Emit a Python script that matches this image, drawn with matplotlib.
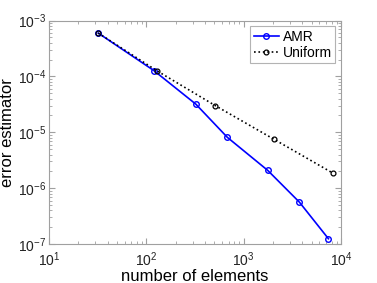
import matplotlib.pyplot as plt
import numpy as np

plt.rcParams['font.family'] = ['Liberation Sans', 'DejaVu Sans']

amr_n = [32, 120, 322, 681, 1766, 3740, 7430]
amr_err = [6.0e-4, 1.27e-4, 3.2e-5, 8.1e-6, 2.08e-6, 5.6e-7, 1.24e-7]
uni_n = [32, 128, 512, 2048, 8192]
uni_err = [6.0e-4, 1.27e-4, 3.0e-5, 7.5e-6, 1.87e-6]

fig = plt.figure(figsize=(3.77, 2.83), dpi=100)
ax = fig.add_axes([0.130, 0.138, 0.7745, 0.789])

ax.loglog(amr_n, amr_err, '-o', color='#0000ff', linewidth=1.2, markersize=4,
          markerfacecolor='none', markeredgewidth=1.0, label='AMR')
ax.loglog(uni_n, uni_err, ':o', color='black', linewidth=1.2, markersize=3.5,
          markerfacecolor='none', markeredgewidth=0.9, label='Uniform')

ax.set_xlim(10, 1e4)
ax.set_ylim(1e-7, 1e-3)
ax.set_xlabel("number of elements", fontsize=12, labelpad=0)
ax.set_ylabel("error estimator", fontsize=12)
ax.yaxis.set_label_coords(-0.118, 0.5)

for s in ax.spines.values():
    s.set_color('#a0a0a0')
    s.set_linewidth(0.8)
ax.tick_params(which='both', direction='in', top=True, right=True, color='#a0a0a0',
               labelsize=10, labelcolor='#222222')
ax.tick_params(which='major', length=4)
ax.tick_params(which='minor', length=2)
ax.tick_params(axis='x', pad=5)
ax.tick_params(axis='y', pad=2)

leg = ax.legend(loc='upper right', fontsize=10, frameon=True, fancybox=False,
                handlelength=1.8, handletextpad=0.3, borderpad=0.25,
                labelspacing=0.15, borderaxespad=0.4)
leg.get_frame().set_edgecolor('#a0a0a0')
leg.get_frame().set_linewidth(0.8)

fig.savefig("out.png", dpi=100)
